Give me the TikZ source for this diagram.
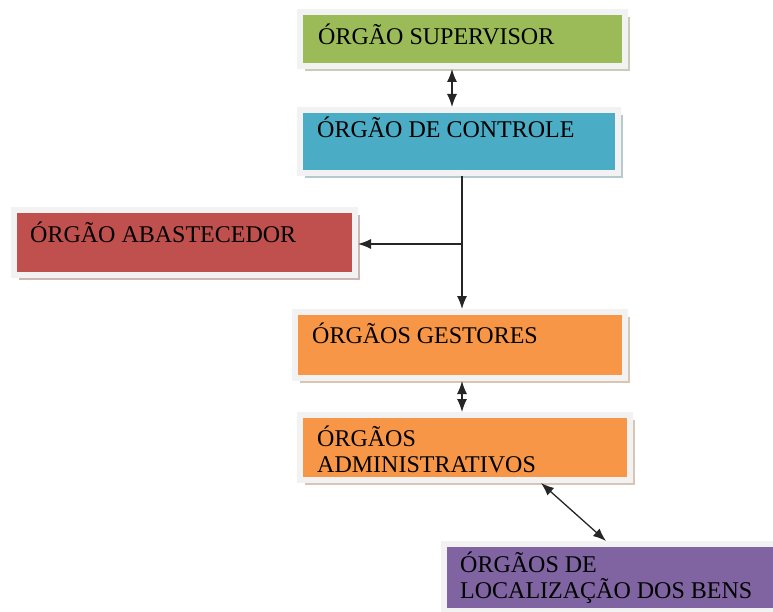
\documentclass[tikz,border=0pt]{standalone}
\usepackage{fontspec}
\setmainfont{Liberation Serif}
\usetikzlibrary{
  arrows.meta,
  shadows
}
\tikzset{>={Latex[length=13pt, width=10pt]}}
\tikzset{
  orgao/.style={draw=black!5, line width=6pt, fill=#1,
    drop shadow={shadow xshift=5pt, shadow yshift=-5pt, fill=#1!60!black, opacity=.35}},
  rotulo/.style={anchor=base west, align=left, inner sep=0pt,
    font=\fontsize{24}{26}\selectfont},
  liga/.style={black!85, line width=1.3pt}
}
\definecolor{verde}{HTML}{9BBB59}
\definecolor{azul}{HTML}{4BACC6}
\definecolor{vermelho}{HTML}{C0504D}
\definecolor{laranja}{HTML}{F79646}
\definecolor{roxo}{HTML}{8064A2}
\begin{document}
\begin{tikzpicture}[x=1pt, y=-1pt]
\useasboundingbox[fill=white] (0,0) rectangle (773,612);
\clip (0,0) rectangle (773,612);
% caixas
\node[orgao=verde, minimum width=325pt, minimum height=54pt] (sup) at (462.5,39) {};
\node[orgao=azul, minimum width=318pt, minimum height=63pt] (ctrl) at (459,141.5) {};
\node[orgao=vermelho, minimum width=341pt, minimum height=65pt] (abs) at (184.5,242.5) {};
\node[orgao=laranja, minimum width=330pt, minimum height=66pt] (gest) at (460,345) {};
\node[orgao=laranja, minimum width=330pt, minimum height=65pt] (adm) at (465,447.5) {};
\node[orgao=roxo, minimum width=332pt, minimum height=67pt] (loc) at (610,577.5) {};
% textos (base = ultima linha)
\node[rotulo] (supT) at ([shift={(21,36)}]sup.north west) {ÓRGÃO SUPERVISOR};
\node[rotulo] (ctrlT) at ([shift={(20,31)}]ctrl.north west) {ÓRGÃO DE CONTROLE};
\node[rotulo] (absT) at ([shift={(19,36)}]abs.north west) {ÓRGÃO ABASTECEDOR};
\node[rotulo] (gestT) at ([shift={(20,34)}]gest.north west) {ÓRGÃOS GESTORES};
\node[rotulo] (admT) at ([shift={(20,60)}]adm.north west) {ÓRGÃOS\\ADMINISTRATIVOS};
\node[rotulo] (locT) at ([shift={(19,57)}]loc.north west) {ÓRGÃOS DE\\LOCALIZAÇÃO DOS BENS};
% ligacoes
\draw[liga, <->] ([xshift=-10.5pt]sup.south) -- ([xshift=-7pt]ctrl.north);
\draw[liga, ->] ([xshift=3pt]ctrl.south) -- ([xshift=2pt]gest.north);
\coordinate (ramo) at ([xshift=3pt]ctrl.south |- 0,244);
\draw[liga, ->] (ramo) -- (abs.east |- ramo);
\draw[liga, <->] ([xshift=2pt]gest.south) -- ([xshift=-3pt]adm.north);
\draw[liga, <->] ([xshift=76pt]adm.south) -- ([xshift=-4pt]loc.north);
\end{tikzpicture}
\end{document}
